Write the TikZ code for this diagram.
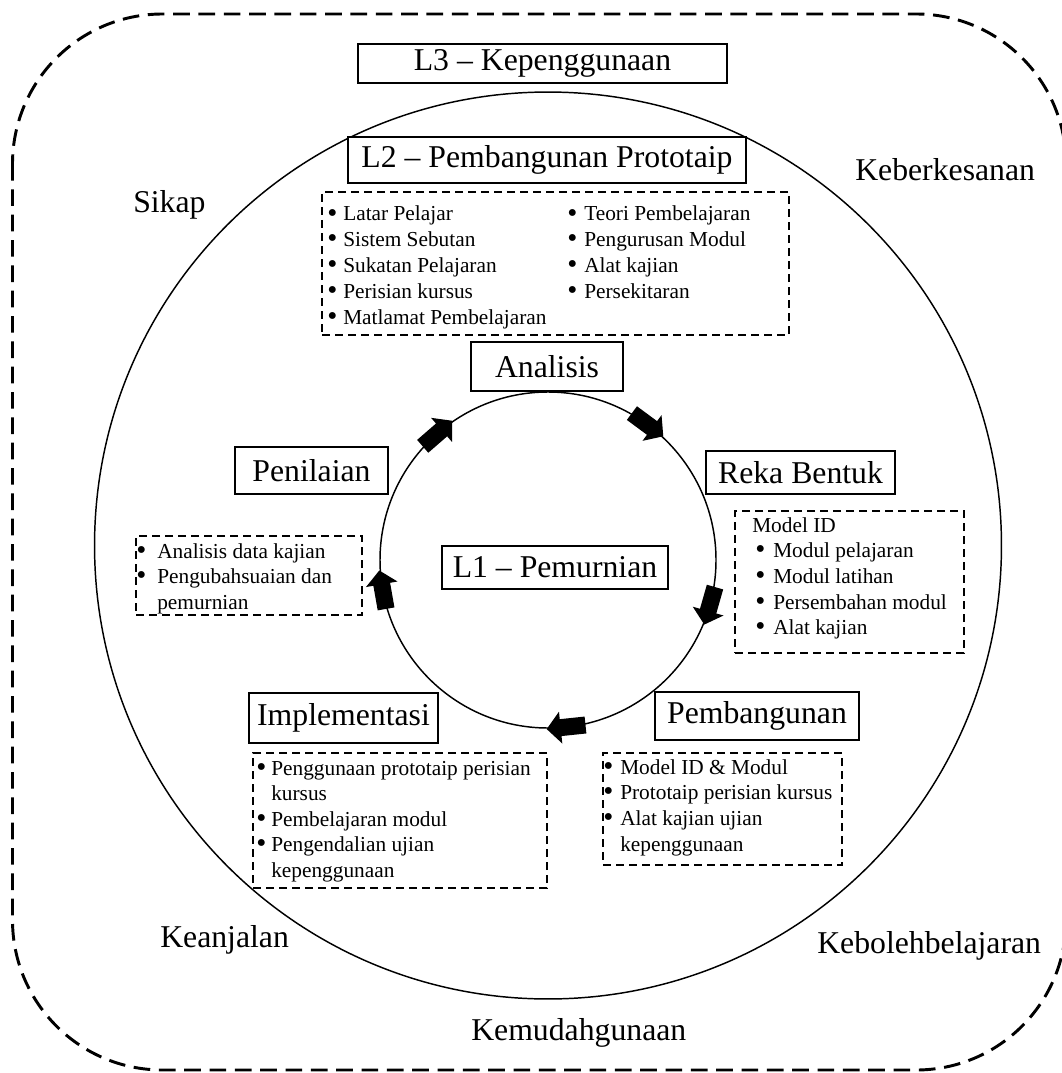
\documentclass[tikz,border=0pt]{standalone}
\usepackage{graphicx}
\usepackage{fontspec}
\setmainfont{Liberation Serif}
\newcommand\bul[1]{\makebox[#1][l]{\raisebox{-0.12ex}{\scalebox{1.35}{•}}}}
\newcommand\blockarr[2]{\fill[shift={#1},rotate=#2] (-20,-8.5)--(5,-8.5)--(5,-16)--(19,0)--(5,16)--(5,8.5)--(-20,8.5)--cycle;}
\begin{document}
\begin{tikzpicture}[x=0.75pt,y=-0.75pt,
  big/.style={font=\fontsize{23.8}{28}\selectfont},
  item/.style={font=\fontsize{16}{19.4}\selectfont, anchor=base west, inner sep=0pt},
  lbox/.style={draw, line width=1.1pt, fill=white, big, inner sep=0pt},
  dbox/.style={draw, line width=1.2pt, dash pattern=on 6pt off 3.75pt, inner sep=0pt},
  outerline/.style={line width=2.2pt, dash pattern=on 12.5pt off 6.5pt},
  ring/.style={line width=1.1pt},
  lbl/.style={big, anchor=base west, inner sep=0pt}]
\useasboundingbox (0,0) rectangle (1062,1073);
% outer dashed frame
\draw[outerline, rounded corners=112.5pt] (12.5,14) rectangle (1066,1070);
% circles
\draw[ring] (548,545.5) circle [radius=340.1pt];
\draw[ring] (548,560) circle [radius=126pt];
% block arrows on inner circle
\blockarr{(437.8,433.2)}{41}
\blockarr{(648,425)}{-36.5}
\blockarr{(709.5,606.3)}{-106}
\blockarr{(565.6,727.1)}{-174}
\blockarr{(382.6,589.2)}{100}
% titled boxes
\node[lbox, minimum width=276.75pt, minimum height=29.25pt] (l3) at (542.5,63.5) {L3 -- Kepenggunaan};
\node[lbox, minimum width=298.5pt, minimum height=34.5pt] (l2) at (547,160) {L2 -- Pembangunan Prototaip};
\node[lbox, minimum width=114pt, minimum height=36.75pt] (analisis) at (547,366.5) {Analisis};
\node[lbox, minimum width=114.75pt, minimum height=35.25pt] (penilaian) at (311.5,470.5) {Penilaian};
\node[lbox, minimum width=141.75pt, minimum height=32.25pt] (reka) at (800.5,472.5) {Reka Bentuk};
\node[lbox, minimum width=169.5pt, minimum height=32.25pt] (l1) at (555,567.5) {L1 -- Pemurnian};
\node[lbox, minimum width=141.75pt, minimum height=37.5pt] (impl) at (343.5,718) {Implementasi};
\node[lbox, minimum width=153pt, minimum height=36pt] (pemb) at (757,716) {Pembangunan};
% dashed list boxes
\node[dbox, minimum width=350.25pt, minimum height=107.25pt] (l2list) at (555.5,263.5) {};
\node[dbox, minimum width=171.75pt, minimum height=106.5pt] (rekalist) at (849.5,582) {};
\node[dbox, minimum width=169.5pt, minimum height=59.25pt] (penlist) at (249,575.5) {};
\node[dbox, minimum width=220.5pt, minimum height=101.25pt] (impllist) at (400,820.5) {};
\node[dbox, minimum width=179.25pt, minimum height=84pt] (pemblist) at (722.5,809) {};
% L2 list
\foreach \t [count=\i from 0] in {Latar Pelajar, Sistem Sebutan, Sukatan Pelajaran, Perisian kursus, Matlamat Pembelajaran}
  \node[item] (l2a\i) at (327,{221+25.75*\i}) {\bul{12pt}\t};
\foreach \t [count=\i from 0] in {Teori Pembelajaran, Pengurusan Modul, Alat kajian, Persekitaran}
  \node[item] (l2b\i) at (567,{221+25.75*\i}) {\bul{12.75pt}\t};
% Reka Bentuk list
\node[item] (rekahead) at (752,532) {Model ID};
\foreach \t [count=\i from 0] in {Modul pelajaran, Modul latihan, Persembahan modul, Alat kajian}
  \node[item] (rekaa\i) at (755,{557.5+25.75*\i}) {\bul{13.5pt}\t};
% Penilaian list
\node[item] (pena0) at (136,558) {\bul{15.75pt}Analisis data kajian};
\node[item] (pena1) at (136,583.5) {\bul{15.75pt}Pengubahsuaian dan};
\node[item] (pena2) at (157,609) {pemurnian};
% Implementasi list
\node[item] (impla0) at (256,775) {\bul{11.25pt}Penggunaan prototaip perisian};
\node[item] (impla1) at (271,800.5) {kursus};
\node[item] (impla2) at (256,826) {\bul{11.25pt}Pembelajaran modul};
\node[item] (impla3) at (256,851.5) {\bul{11.25pt}Pengendalian ujian};
\node[item] (impla4) at (271,877) {kepenggunaan};
% Pembangunan list
\node[item] (pemba0) at (603,774) {\bul{12.75pt}Model ID \& Modul};
\node[item] (pemba1) at (603,799.7) {\bul{12.75pt}Prototaip perisian kursus};
\node[item] (pemba2) at (603,825.4) {\bul{12.75pt}Alat kajian ujian};
\node[item] (pemba3) at (620,851.1) {kepenggunaan};
% outer labels
\node[lbl] (sikap) at (133,213) {Sikap};
\node[lbl] (keber) at (855,181) {Keberkesanan};
\node[lbl] (keanj) at (160,947) {Keanjalan};
\node[lbl] (kebol) at (817,953) {Kebolehbelajaran};
\node[lbl] (kemud) at (471,1040) {Kemudahgunaan};
\end{tikzpicture}
\end{document}
